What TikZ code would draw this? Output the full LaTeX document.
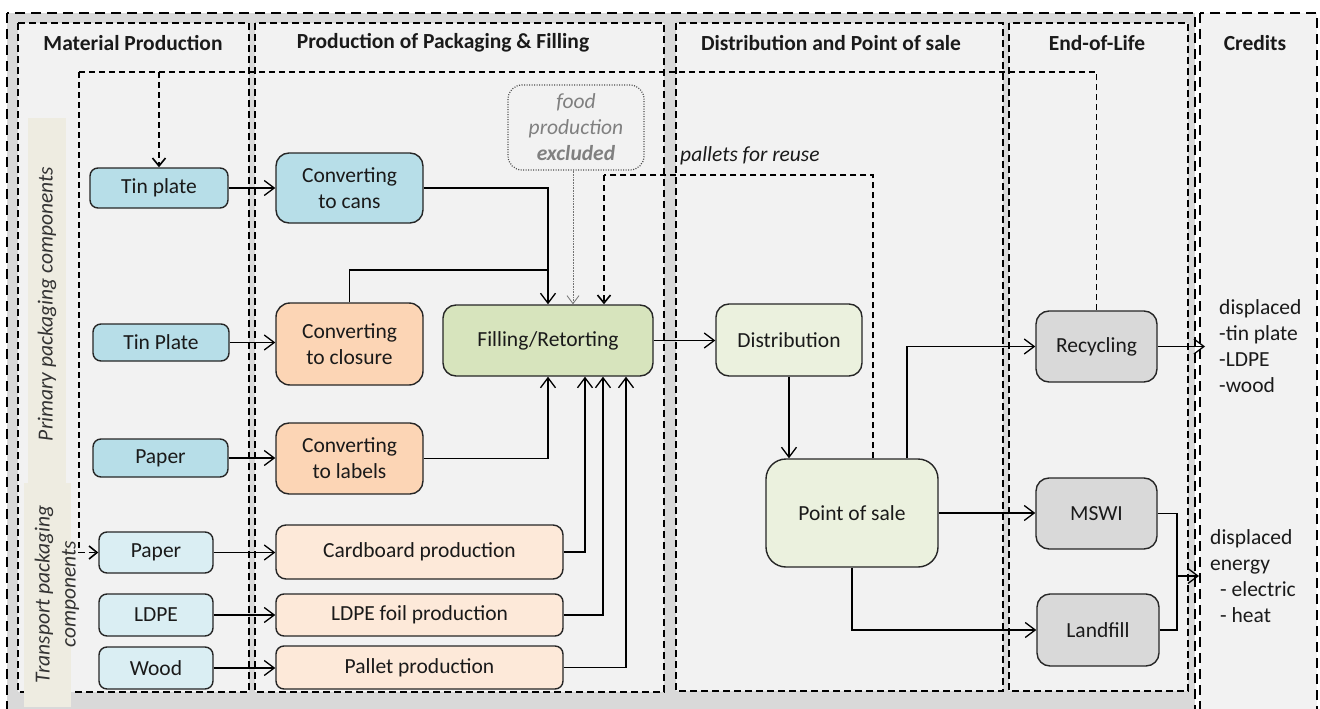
\documentclass[tikz,border=0pt]{standalone}
\usepackage{fontspec}
\setmainfont{Carlito}
\usetikzlibrary{arrows.meta,calc}
\definecolor{bggray}{HTML}{D9D9D9}
\definecolor{panelgray}{HTML}{F2F2F2}
\definecolor{nblue}{HTML}{B7DEE8}
\definecolor{nltblue}{HTML}{DAEEF3}
\definecolor{npeach}{HTML}{FCD5B5}
\definecolor{nltpeach}{HTML}{FDE9D9}
\definecolor{ngreen}{HTML}{D7E4BD}
\definecolor{nltgreen}{HTML}{EBF1DE}
\definecolor{ngray}{HTML}{D9D9D9}
\definecolor{beige}{HTML}{EEECE1}
\definecolor{txt}{HTML}{1A1A1A}
\newcommand\nfs{\fontsize{21.5}{26}\selectfont}
\begin{document}
\begin{tikzpicture}[x=1pt,y=-1pt,
  outerbox/.style={draw, fill=bggray, dash pattern=on 10pt off 6pt, line width=2pt},
  panel/.style={draw, fill=panelgray, dash pattern=on 7pt off 4pt, line width=1.4pt},
  nd/.style={draw=black!85, line width=1.4pt, align=center, inner sep=0pt, font=\nfs, text=txt},
  hdr/.style={font=\nfs\bfseries, text=txt},
  conn/.style={line width=1.3pt, -{Straight Barb[length=10pt,width=15pt]}},
  plain/.style={line width=1.3pt},
  dloop/.style={line width=1.6pt, dash pattern=on 6pt off 4pt},
  lbl/.style={font=\nfs\itshape, text=black!80, align=center}
]
\useasboundingbox (0,0) rectangle (1320,709);
% background boxes
\path[outerbox] (7,13) rectangle (1195,730);
\path[outerbox, fill=panelgray] (1200,13) rectangle (1317,730);
\path[panel] (18,23) rectangle (249,692);
\path[panel] (255,23) rectangle (664,692);
\path[panel] (676,23) rectangle (1003,691);
\path[panel] (1009,23) rectangle (1188,691);
% headers
\node[hdr] (h1) at (133,43) {Material Production};
\node[hdr] (h2) at (443,43) {Production of Packaging \& Filling};
\node[hdr] (h3) at (831,43) {Distribution and Point of sale};
\node[hdr] (h4) at (1097,43) {End-of-Life};
\node[hdr] (h5) at (1255,43) {Credits};
% side labels
\node[fill=beige, minimum width=38pt, minimum height=365pt, inner sep=0pt] (sb1) at (47,300.5) {};
\node[fill=beige, minimum width=47pt, minimum height=224pt, inner sep=0pt] (sb2) at (47.5,595) {};
\node[lbl, rotate=90] (sl1) at (47,304) {Primary packaging components};
\node[lbl, rotate=90] (sl2) at (57,594) {Transport packaging\\components};
% nodes
\node[nd, fill=nblue, minimum width=138pt, minimum height=40pt, rounded corners=8pt] (tp1) at (159,188) {Tin plate};
\node[nd, fill=nblue, minimum width=136pt, minimum height=37pt, rounded corners=8pt] (tp2) at (161,342.5) {Tin Plate};
\node[nd, fill=nblue, minimum width=135pt, minimum height=38pt, rounded corners=8pt] (pa1) at (160.5,458) {Paper};
\node[nd, fill=nltblue, minimum width=114pt, minimum height=41pt, rounded corners=8pt] (pa2) at (156,552.5) {Paper};
\node[nd, fill=nltblue, minimum width=114pt, minimum height=42pt, rounded corners=8pt] (ldpe) at (156,615) {LDPE};
\node[nd, fill=nltblue, minimum width=114pt, minimum height=42pt, rounded corners=8pt] (wood) at (156,668) {Wood};
\node[nd, fill=nblue, minimum width=147pt, minimum height=70pt, rounded corners=13pt] (cans) at (349.5,188) {Converting\\to cans};
\node[nd, fill=npeach, minimum width=147pt, minimum height=82pt, rounded corners=14pt] (clos) at (349.5,344) {Converting\\to closure};
\node[nd, fill=npeach, minimum width=147pt, minimum height=71pt, rounded corners=13pt] (labl) at (349.5,458.5) {Converting\\to labels};
\node[nd, fill=nltpeach, minimum width=287pt, minimum height=54pt, rounded corners=10pt] (card) at (419.5,552) {Cardboard production};
\node[nd, fill=nltpeach, minimum width=287pt, minimum height=42pt, rounded corners=8pt] (foil) at (419.5,615) {LDPE foil production};
\node[nd, fill=nltpeach, minimum width=287pt, minimum height=43pt, rounded corners=8pt] (pall) at (419.5,667.5) {Pallet production};
\node[nd, fill=ngreen, minimum width=210pt, minimum height=71pt, rounded corners=13pt] (fill) at (548,340.5) {Filling/Retorting};
\node[nd, draw=black!70, line width=1.2pt, dash pattern=on 1pt off 1.5pt, minimum width=136pt, minimum height=85pt, rounded corners=14pt, text=black!50, font=\nfs\itshape] (food) at (576,127.5) {food\\production\\\textbf{excluded}};
\node[nd, fill=nltgreen, minimum width=146pt, minimum height=72pt, rounded corners=13pt] (dist) at (789,340) {Distribution};
\node[nd, fill=nltgreen, minimum width=172pt, minimum height=108pt, rounded corners=20pt] (pos) at (852,513) {Point of sale};
\node[nd, fill=ngray, minimum width=121pt, minimum height=71pt, rounded corners=13pt] (recy) at (1096.5,346.5) {Recycling};
\node[nd, fill=ngray, minimum width=121pt, minimum height=71pt, rounded corners=13pt] (mswi) at (1096.5,513.5) {MSWI};
\node[nd, fill=ngray, minimum width=122pt, minimum height=72pt, rounded corners=13pt] (land) at (1098,630) {Landfill};
% credits texts
\node[font=\nfs, text=txt, align=left, anchor=west, inner sep=0pt] (cr1) at (1219,346) {displaced\\-tin plate\\-LDPE\\-wood};
\node[font=\nfs, text=txt, align=left, anchor=west, inner sep=0pt] (cr2) at (1210,576) {displaced\\energy\\\hspace*{10pt}- electric\\\hspace*{10pt}- heat};
\node[font=\nfs\itshape, text=txt, anchor=west, inner sep=0pt] (pfr) at (680,156) {pallets for reuse};
% coordinates
\coordinate (lt) at (79,72);
\coordinate (cj) at (548,270);
\coordinate (pr) at (604,175);
\coordinate (ej) at (1177,576);
\coordinate (eend) at (1199,576);
\coordinate (rend) at (1205,346.5);
\coordinate (fa) at ($(food.south)+(-3,0)$);
\coordinate (ps1) at ($(pos.north)+(21,0)$);
\coordinate (ps2) at ($(pos.north)+(55,0)$);
\coordinate (fb1) at ($(fill.south)+(37,0)$);
\coordinate (fb2) at ($(fill.south)+(55,0)$);
\coordinate (fb3) at ($(fill.south)+(78,0)$);
% dashed loops
\draw[dloop] (recy.north) |- (lt);
\draw[dloop, -{Straight Barb[length=8pt,width=13pt]}] (lt) |- (pa2.west);
\draw[dloop, -{Straight Barb[length=8pt,width=13pt]}] (tp1.north |- lt) -- (tp1.north);
\draw[dloop] (ps1) |- (pr);
\draw[dloop, -{Straight Barb[length=8pt,width=13pt]}] (pr) -- (pr |- fill.north);
\draw[black!55, line width=0.8pt, dash pattern=on 1pt off 0.6pt, -{Straight Barb[length=8pt,width=12pt]}] (fa) -- (fa |- fill.north);
% solid connectors
\draw[conn] (tp1.east) -- (cans.west);
\draw[conn] (tp2.east) -- (tp2.east -| clos.west);
\draw[conn] (pa1.east) -- (pa1.east -| labl.west);
\draw[conn] (pa2.east) -- (pa2.east -| card.west);
\draw[conn] (ldpe.east) -- (foil.west);
\draw[conn] (wood.east) -- (wood.east -| pall.west);
\draw[conn] (cans.east) -| (fill.north);
\draw[plain] (clos.north) |- (cj);
\draw[conn] (labl.east) -| (fill.south);
\draw[conn] (card.east) -| (fb1);
\draw[conn] (foil.east) -| (fb2);
\draw[conn] (pall.east) -| (fb3);
\draw[conn] (fill.east) -- (fill.east -| dist.west);
\draw[conn] (dist.south) -- (dist.south |- pos.north);
\draw[conn] (ps2) |- (recy.west);
\draw[conn] (pos.east) -- (pos.east -| mswi.west);
\draw[conn] (pos.south) |- (land.west);
\draw[conn] (recy.east) -- (rend);
\draw[plain] (mswi.east) -| (ej);
\draw[plain] (land.east) -| (ej);
\draw[conn] (ej) -- (eend);
\end{tikzpicture}
\end{document}
